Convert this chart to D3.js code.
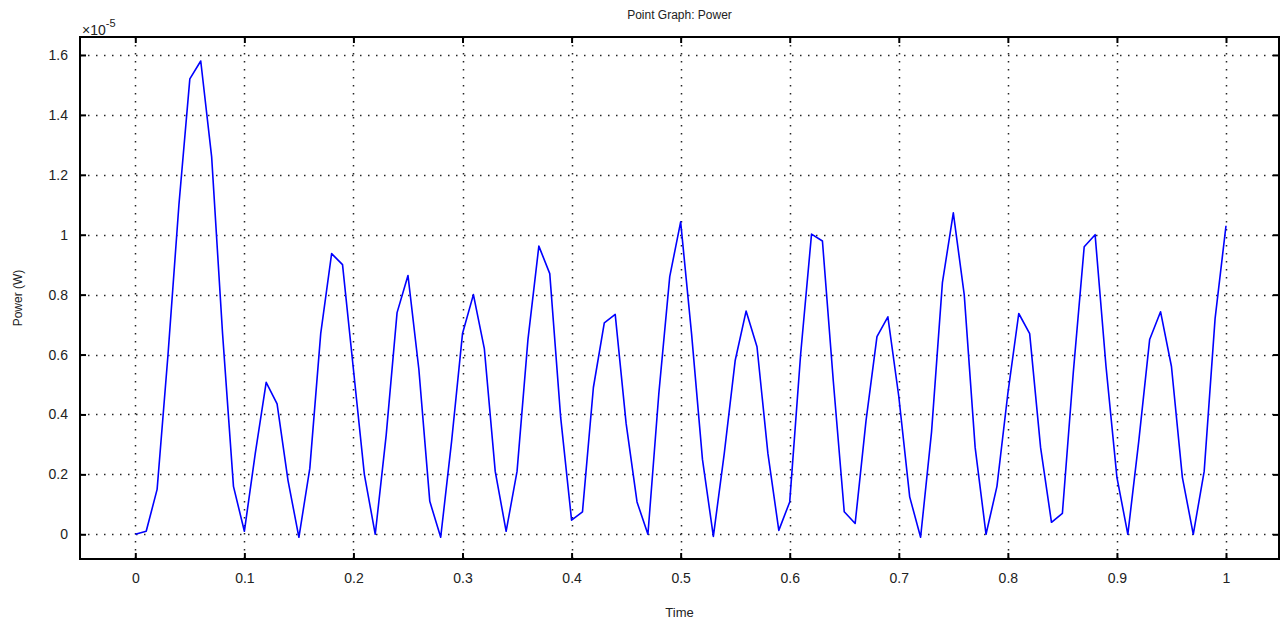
<!DOCTYPE html>
<html>
<head>
<meta charset="utf-8">
<script src="https://cdn.jsdelivr.net/npm/d3@7"></script>
<style>
  body { margin: 0; background: #fff; }
  svg { display: block; font-family: "Liberation Sans", Arial, sans-serif; }
</style>
</head>
<body>
<script>
// time samples, every 0.01 s
const times = d3.range(0, 101).map(i => i / 100);

// power in units of 1e-5 W
const power = [
  0.00, 0.01, 0.15, 0.60, 1.10, 1.52, 1.58, 1.26, 0.67, 0.16,
  0.01, 0.27, 0.507, 0.435, 0.18, -0.01, 0.22, 0.67, 0.937, 0.90,
  0.55, 0.20, 0.00, 0.33, 0.74, 0.864, 0.55, 0.11, -0.01, 0.31,
  0.67, 0.80, 0.62, 0.21, 0.01, 0.21, 0.65, 0.962, 0.87, 0.39,
  0.047, 0.075, 0.49, 0.706, 0.734, 0.37, 0.108, 0.00, 0.47, 0.86,
  1.043, 0.67, 0.25, -0.007, 0.27, 0.58, 0.745, 0.626, 0.27, 0.013,
  0.108, 0.60, 1.002, 0.979, 0.51, 0.075, 0.036, 0.38, 0.66, 0.726,
  0.46, 0.125, -0.01, 0.34, 0.84, 1.073, 0.80, 0.29, 0.00, 0.16,
  0.47, 0.737, 0.67, 0.29, 0.04, 0.07, 0.54, 0.96, 1.00, 0.56,
  0.19, 0.00, 0.31, 0.65, 0.743, 0.56, 0.19, 0.00, 0.21, 0.72,
  1.03
];

const xTicks = d3.range(0, 11).map(i => i / 10);
const yTicks = d3.range(0, 9).map(i => i / 5);

const width = 1280, height = 626;
const pLeft = 80, pRight = 1279, pTop = 37, pBottom = 559;

const x = d3.scaleLinear().domain([-0.0507, 1.0486]).range([pLeft, pRight]);
const y = d3.scaleLinear().domain([-0.0825, 1.66]).range([pBottom, pTop]);

const svg = d3.select("body").append("svg")
  .attr("width", width)
  .attr("height", height);

// grid
const grid = svg.append("g")
  .attr("stroke", "#000")
  .attr("stroke-width", 1.5)
  .attr("stroke-dasharray", "1.5,6.5")
  .attr("opacity", 0.85);

grid.selectAll(".gx").data(xTicks).enter().append("line")
  .attr("x1", d => Math.round(x(d)) + 0.5).attr("x2", d => Math.round(x(d)) + 0.5)
  .attr("y1", pTop).attr("y2", pBottom);

grid.selectAll(".gy").data(yTicks).enter().append("line")
  .attr("y1", d => Math.round(y(d)) + 0.5).attr("y2", d => Math.round(y(d)) + 0.5)
  .attr("x1", pLeft).attr("x2", pRight);

// power curve
const line = d3.line()
  .x((d, i) => x(times[i]))
  .y(d => y(d));

svg.append("path")
  .datum(power)
  .attr("d", line)
  .attr("fill", "none")
  .attr("stroke", "#0000ff")
  .attr("stroke-width", 1.6)
  .attr("stroke-linejoin", "round");

// axes: bottom + left with labels, top + right mirrored ticks only
const axB = d3.axisBottom(x).tickValues(xTicks).tickSize(-6).tickPadding(14)
  .tickFormat(d3.format("~g"));
const axT = d3.axisTop(x).tickValues(xTicks).tickSize(-6).tickFormat("");
const axL = d3.axisLeft(y).tickValues(yTicks).tickSize(-6).tickPadding(12)
  .tickFormat(d3.format("~g"));
const axR = d3.axisRight(y).tickValues(yTicks).tickSize(-6).tickFormat("");

function style(g) {
  g.select(".domain").attr("stroke", "#000").attr("stroke-width", 2);
  g.selectAll(".tick line").attr("stroke", "#000").attr("stroke-width", 2);
  g.selectAll(".tick text").attr("fill", "#222").attr("font-size", 14)
    .attr("font-family", "Liberation Sans, Arial, sans-serif");
}

svg.append("g").attr("transform", `translate(0,${pBottom})`).call(axB).call(style);
svg.append("g").attr("transform", `translate(0,${pTop})`).call(axT).call(style);
svg.append("g").attr("transform", `translate(${pLeft},0)`).call(axL).call(style);
svg.append("g").attr("transform", `translate(${pRight},0)`).call(axR).call(style);
svg.selectAll(".domain").remove();

// frame
svg.append("rect")
  .attr("x", pLeft).attr("y", pTop)
  .attr("width", pRight - pLeft).attr("height", pBottom - pTop)
  .attr("fill", "none").attr("stroke", "#000").attr("stroke-width", 2);

// texts
svg.append("text")
  .attr("x", (pLeft + pRight) / 2).attr("y", 19)
  .attr("text-anchor", "middle").attr("font-size", 12).attr("fill", "#222")
  .text("Point Graph: Power");

svg.append("text")
  .attr("x", (pLeft + pRight) / 2).attr("y", 617)
  .attr("text-anchor", "middle").attr("font-size", 13).attr("fill", "#222")
  .text("Time");

svg.append("text")
  .attr("transform", `translate(22,${(pTop + pBottom) / 2}) rotate(-90)`)
  .attr("text-anchor", "middle").attr("font-size", 12).attr("fill", "#222")
  .text("Power (W)");

const mult = svg.append("text")
  .attr("x", 82).attr("y", 35).attr("font-size", 14).attr("fill", "#222");
mult.append("tspan").text("\u00d710");
mult.append("tspan").attr("dy", -8).attr("font-size", 11).text("-5");
</script>
</body>
</html>
